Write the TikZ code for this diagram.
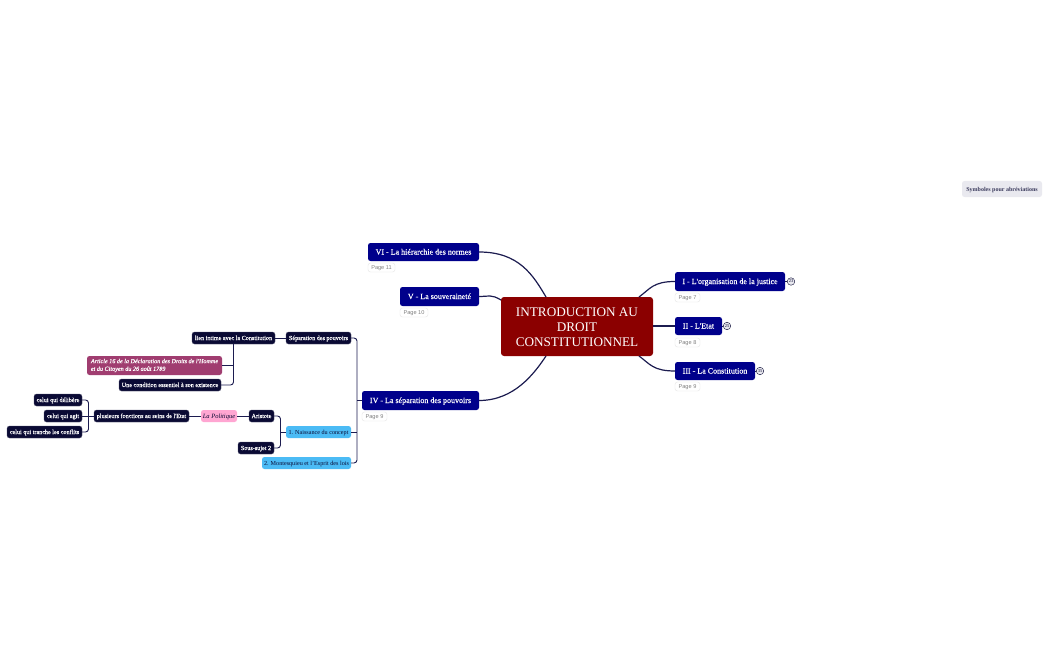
\documentclass[tikz,border=0pt]{standalone}
\usepackage{fontspec}
\setmainfont{Liberation Serif}
\newfontfamily\pagefont{Liberation Sans}
\newfontfamily\semibold[FakeBold=0.35]{Liberation Serif}
\usetikzlibrary{calc}
\definecolor{ink}{HTML}{0A0A34}
\definecolor{wire}{HTML}{1C1C50}
\definecolor{navy}{HTML}{00008B}
\definecolor{blood}{HTML}{8B0000}
\definecolor{plum}{HTML}{A03D70}
\definecolor{pinkish}{HTML}{FFA6D2}
\definecolor{sky}{HTML}{4BBBF5}
\definecolor{pale}{HTML}{E9E9EF}
\tikzset{
  box/.style={anchor=north west,rounded corners=2.5pt,inner sep=0pt,outer sep=0pt,align=center,font=\fontsize{6.15}{7.6}\selectfont},
  single/.style={text height=5.5pt,text depth=1.5pt},
  leaf/.style={box,single,fill=ink,draw=ink!70,line width=.3pt,text=white,font=\semibold\fontsize{6.15}{7.6}\selectfont},
  branch/.style={box,text height=7pt,text depth=2pt,fill=navy,text=white,font=\semibold\fontsize{8}{10}\selectfont},
  topic/.style={box,single,fill=sky,text=ink},
  pagetag/.style={anchor=north west,rounded corners=2.5pt,draw=black!10,line width=.4pt,fill=white,text=black!50,inner sep=0pt,outer sep=0pt,align=center,text height=4.5pt,text depth=.5pt,font=\pagefont\fontsize{5.6}{6}\selectfont},
  badge/.style={circle,draw=ink,fill=pale,line width=.4pt,inner sep=0pt,minimum size=7.5pt,text=ink,font=\fontsize{4.5}{5}\selectfont},
  wirebig/.style={draw=wire,line width=1.2pt},
  wiresmall/.style={draw=wire,line width=.9pt,rounded corners=3pt},
}
\newcommand{\bx}[7]{\node[#1,minimum width=#4pt-#2pt,minimum height=#5pt-#3pt] (#6) at (#2pt,-#3pt) {#7};}
\begin{document}
\begin{tikzpicture}[x=1pt,y=-1pt]
\useasboundingbox (0,0) rectangle (1050,650);
\fill[white] (0,0) rectangle (1050,650);
% central
\bx{box,rounded corners=3pt,fill=blood,text=white,font=\fontsize{13.2}{15}\selectfont}{501}{297}{653}{356}{central}{\rule{0pt}{11pt}INTRODUCTION AU\\DROIT\\CONSTITUTIONNEL}
% main branches
\bx{branch}{368}{243}{479}{261}{vi}{VI - La hiérarchie des normes}
\bx{branch}{400}{287}{479}{306}{v}{V - La souveraineté}
\bx{branch}{362}{391}{479}{410}{iv}{IV - La séparation des pouvoirs}
\bx{branch}{675}{272}{785}{291}{i}{I - L'organisation de la justice}
\bx{branch}{675}{317}{722}{335}{ii}{II - L'Etat}
\bx{branch}{675}{362}{755}{380}{iii}{III - La Constitution}
% page tags
\bx{pagetag}{368}{263}{395}{272}{p11}{Page 11}
\bx{pagetag}{400}{308}{428}{317}{p10}{Page 10}
\bx{pagetag}{362}{412}{387}{421}{p9a}{Page 9}
\bx{pagetag}{675}{293}{700}{302}{p7}{Page 7}
\bx{pagetag}{675}{338}{700}{347}{p8}{Page 8}
\bx{pagetag}{675}{382}{700}{391}{p9b}{Page 9}
% badges
\node[badge] (bi) at (791,281.5) {23};
\node[badge] (bii) at (727,326) {25};
\node[badge] (biii) at (760,371) {35};
% left tree
\bx{leaf}{286}{332}{351}{344}{sep}{Séparation des pouvoirs}
\bx{leaf}{192}{332}{275}{344}{lien}{lien intime avec la Constitution}
\bx{box,fill=plum,text=white,align=left,font=\semibold\fontsize{6.15}{7.6}\selectfont\itshape}{87}{356}{222}{375}{art}{Article 16 de la Déclaration des Droits de l'Homme\\et du Citoyen du 26 août 1789}
\bx{leaf}{119}{379}{221}{391}{cond}{Une condition essentiel à son existence}
\bx{topic}{286}{426}{351}{438}{nais}{1. Naissance du concept}
\bx{topic}{262}{457}{351}{469}{mont}{2. Montesquieu et l'Esprit des lois}
\bx{leaf}{249}{410}{274}{422}{ari}{Aristote}
\bx{leaf}{238}{442}{274}{454}{sous}{Sous-sujet 2}
\bx{box,single,fill=pinkish,text=ink,font=\fontsize{6.5}{7.6}\selectfont}{201}{410}{237}{422}{pol}{\textit{La Politique}}
\bx{leaf}{94}{410}{189}{422}{plus}{plusieurs fonctions au seins de l'Etat}
\bx{leaf}{34}{394}{82}{406}{del}{celui qui délibère}
\bx{leaf}{44}{410}{82}{422}{agit}{celui qui agit}
\bx{leaf}{7}{426}{82}{438}{tran}{celui qui tranche les conflits}
% legend
\bx{box,single,fill=pale,text=ink!80,font=\fontsize{6}{7.5}\selectfont\bfseries}{962}{181}{1042}{197}{sym}{Symboles pour abréviations}
% big connectors
\draw[wirebig] (vi.east) .. controls ($(vi.east)+(40,0)$) and ($(central.north west)+(32,-22)$) .. ($(central.north west)+(45,0)$);
\draw[wirebig] (v.east) .. controls ($(v.east)+(10,0)$) and ($(central.north west)+(-10,-3)$) .. ($(central.north west)+(0,3)$);
\draw[wirebig] (iv.east) .. controls ($(iv.east)+(35,0)$) and ($(central.south west)+(33,18)$) .. ($(central.south west)+(45,0)$);
\draw[wirebig] (i.west) .. controls ($(i.west)+(-22,0)$) and ($(central.north east)+(-3,-8)$) .. ($(central.north east)+(-14,0)$);
\draw[wirebig] (ii.west) -- (ii.west -| central.east);
\draw[wirebig] (iii.west) .. controls ($(iii.west)+(-22,0)$) and ($(central.south east)+(-3,8)$) .. ($(central.south east)+(-14,0)$);
\draw[wire,line width=.7pt] (i.east) -- (bi);
\draw[wire,line width=.7pt] (ii.east) -- (bii);
\draw[wire,line width=.7pt] (iii.east) -- (biii);
% small connectors
\coordinate (busiv) at (357,0);
\draw[wiresmall] (iv.west) -- (iv.west -| busiv);
\draw[wiresmall] (sep.east) -- (sep.east -| busiv) -- (mont.east -| busiv) -- (mont.east);
\draw[wiresmall] (nais.east) -- (nais.east -| busiv);
\draw[wiresmall] (sep.west) -- (lien.east);
\coordinate (buslien) at (233.5,0);
\draw[wiresmall] (lien.south -| buslien) -- (cond.east -| buslien) -- (cond.east);
\draw[wiresmall] (art.east) -- (art.east -| buslien);
\coordinate (busnais) at (280.5,0);
\draw[wiresmall] (ari.east) -- (ari.east -| busnais) -- (sous.east -| busnais) -- (sous.east);
\draw[wiresmall] (nais.west) -- (nais.west -| busnais);
\draw[wiresmall] (pol.east) -- (ari.west);
\draw[wiresmall] (plus.east) -- (pol.west);
\coordinate (busplus) at (88.5,0);
\draw[wiresmall] (del.east) -- (del.east -| busplus) -- (tran.east -| busplus) -- (tran.east);
\draw[wiresmall] (agit.east) -- (plus.west);
\end{tikzpicture}
\end{document}
